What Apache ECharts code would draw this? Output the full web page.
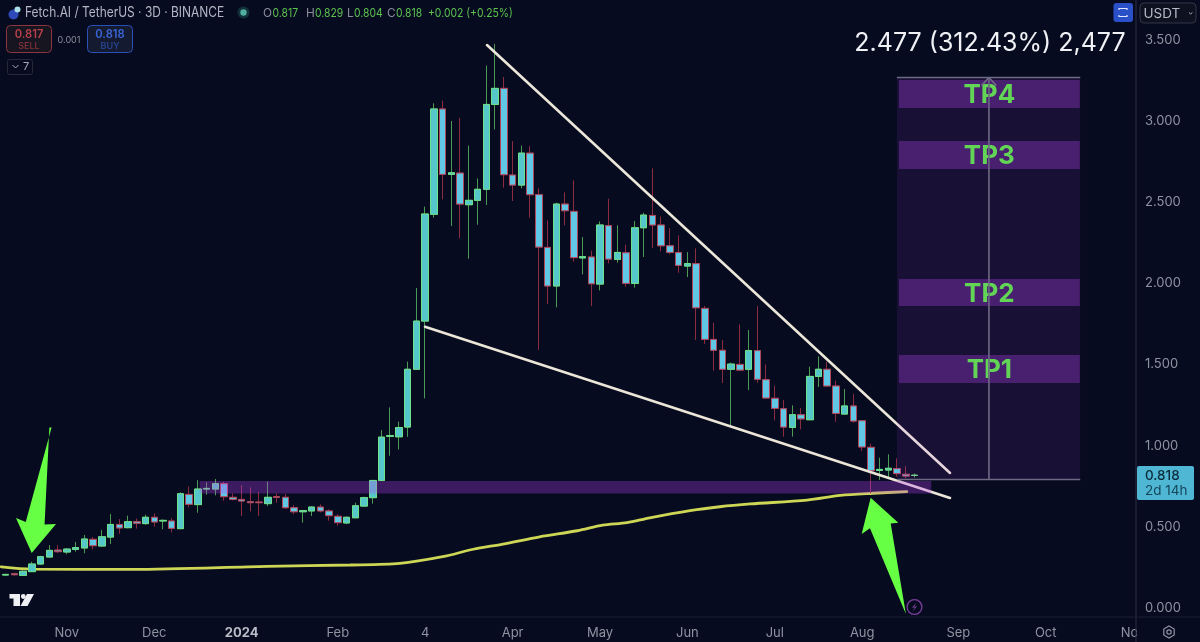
<!DOCTYPE html>
<html><head><meta charset="utf-8"><title>FET/USDT</title>
<style>html,body{margin:0;padding:0;background:#060b20;overflow:hidden}#c{width:1200px;height:642px}</style>
<script src="https://cdn.jsdelivr.net/npm/echarts@6/dist/echarts.min.js"></script></head>
<body><div id="c"></div>
<script>
const categories=['2023-10-12','2023-10-15','2023-10-18','2023-10-21','2023-10-24','2023-10-27','2023-10-30',
'2023-11-02','2023-11-05','2023-11-08','2023-11-11','2023-11-14','2023-11-17','2023-11-20','2023-11-23','2023-11-26','2023-11-29',
'2023-12-02','2023-12-05','2023-12-08','2023-12-11','2023-12-14','2023-12-17','2023-12-20','2023-12-23','2023-12-26','2023-12-29',
'2024-01-01','2024-01-04','2024-01-07','2024-01-10','2024-01-13','2024-01-16','2024-01-19','2024-01-22','2024-01-25','2024-01-28','2024-01-31',
'2024-02-03','2024-02-06','2024-02-09','2024-02-12','2024-02-15','2024-02-18','2024-02-21','2024-02-24','2024-02-27',
'2024-03-01','2024-03-04','2024-03-07','2024-03-10','2024-03-13','2024-03-16','2024-03-19','2024-03-22','2024-03-25','2024-03-28','2024-03-31',
'2024-04-03','2024-04-06','2024-04-09','2024-04-12','2024-04-15','2024-04-18','2024-04-21','2024-04-24','2024-04-27','2024-04-30',
'2024-05-03','2024-05-06','2024-05-09','2024-05-12','2024-05-15','2024-05-18','2024-05-21','2024-05-24','2024-05-27','2024-05-30',
'2024-06-02','2024-06-05','2024-06-08','2024-06-11','2024-06-14','2024-06-17','2024-06-20','2024-06-23','2024-06-26','2024-06-29',
'2024-07-02','2024-07-05','2024-07-08','2024-07-11','2024-07-14','2024-07-17','2024-07-20','2024-07-23','2024-07-26','2024-07-29',
'2024-08-01','2024-08-04','2024-08-07','2024-08-10','2024-08-13','2024-08-16','2024-08-19','2024-08-22','2024-08-25','2024-08-28','2024-08-31',
'2024-09-03','2024-09-06','2024-09-09','2024-09-12','2024-09-15','2024-09-18','2024-09-21','2024-09-24','2024-09-27','2024-09-30',
'2024-10-03','2024-10-06','2024-10-09','2024-10-12','2024-10-15','2024-10-18','2024-10-21','2024-10-24','2024-10-27','2024-10-30',
'2024-11-02'];
const tickDates=['2023-11-02','2023-12-02','2024-01-01','2024-02-03','2024-03-04','2024-04-03','2024-05-03','2024-06-02','2024-07-02','2024-08-01','2024-09-03','2024-10-03','2024-11-02'];
const tickTexts=['Nov','Dec','2024','Feb','4','Apr','May','Jun','Jul','Aug','Sep','Oct','Nov'];
const opens=[.203,.211,.201,.224,.271,.314,.357,.345,.361,.370,.423,.382,.437,.515,.495,.532,.520,.559,.536,.536,
.489,.700,.637,.733,.733,.766,.682,.669,.655,.653,.643,.686,.682,.618,.593,.598,.622,.598,.565,.524,
.556,.628,.680,.786,1.058,1.055,1.115,1.471,1.768,2.426,3.075,2.672,2.680,2.485,2.512,2.580,3.103,3.202,2.668,2.606,
2.803,2.547,2.222,1.984,2.489,2.444,2.157,2.163,1.996,2.356,2.148,2.189,2.000,2.343,2.419,2.360,2.232,2.191,2.107,2.122,
1.846,1.655,1.588,1.471,1.501,1.471,1.586,1.407,1.292,1.228,1.113,1.191,1.160,1.427,1.471,1.368,1.195,1.245,1.154,.990,
.848,.850,.859,.824,.817];
const closes=[.207,.205,.226,.271,.316,.355,.347,.363,.372,.425,.384,.439,.515,.493,.532,.522,.559,.530,.540,.491,
.704,.639,.733,.737,.766,.686,.669,.659,.649,.649,.682,.682,.618,.593,.600,.622,.598,.569,.526,.559,
.630,.680,.786,1.053,1.062,1.112,1.471,1.768,2.428,3.075,2.672,2.682,2.489,2.512,2.580,3.103,3.202,2.670,2.606,2.803,
2.547,2.224,1.984,2.489,2.448,2.159,2.165,1.998,2.360,2.150,2.191,2.000,2.343,2.421,2.360,2.232,2.191,2.111,2.122,1.850,
1.655,1.588,1.471,1.503,1.466,1.586,1.409,1.294,1.230,1.115,1.191,1.165,1.427,1.471,1.368,1.199,1.245,1.152,.992,.846,
.854,.861,.828,.813,.818];
const highs=[.211,.218,.232,.285,.322,.388,.388,.370,.407,.450,.437,.481,.579,.548,.569,.552,.575,.583,.546,.554,
.713,.749,.788,.774,.795,.778,.706,.756,.743,.715,.780,.706,.704,.634,.604,.628,.639,.608,.577,.563,
.649,.686,.788,1.096,1.236,1.148,1.518,1.972,2.473,3.110,3.126,3.001,3.021,2.849,2.647,3.342,3.475,3.272,2.877,2.849,
2.847,2.586,2.389,2.497,2.561,2.635,2.286,2.202,2.382,2.522,2.358,2.239,2.385,2.436,2.709,2.411,2.341,2.296,2.193,2.216,
1.861,1.758,1.651,1.512,1.748,1.713,1.861,1.501,1.370,1.282,1.249,1.232,1.487,1.551,1.518,1.401,1.349,1.319,1.158,1.013,
.926,.947,.922,.875,.829];
const lows=[.199,.199,.199,.222,.267,.312,.339,.331,.347,.337,.361,.378,.394,.458,.491,.489,.513,.501,.485,.466,
.487,.620,.587,.698,.694,.661,.663,.567,.595,.567,.628,.649,.610,.577,.526,.567,.589,.538,.507,.517,
.554,.622,.643,.782,.938,.977,1.055,1.470,1.292,2.405,2.518,2.354,2.278,2.152,2.362,2.483,2.949,2.590,2.508,2.586,
2.405,1.590,1.873,1.853,2.358,2.134,2.056,1.861,1.957,2.124,2.128,1.980,1.974,2.163,2.218,2.198,2.179,2.066,2.039,1.651,
1.627,1.462,1.386,1.123,1.460,1.343,1.388,1.290,1.156,1.056,1.056,1.101,1.158,1.362,1.364,1.148,1.193,1.142,.967,.707,
.789,.799,.809,.799,.804];
const emaIdx=[-0.5,3.01,14.57,29.9,39.4,45.1,50.0,53.5,56.9,61.1,65.4,68.3,71.1,73.7,78.3,81.7,85.2,91.7,95.5,99.2,103.1];
const emaVal=[.254,.240,.238,.257,.265,.275,.316,.362,.394,.439,.476,.510,.526,.556,.600,.624,.641,.665,.694,.707,.717];
const upperTrend=[[55.07,3.469],[108.05,.832]];
const lowerTrend=[[47.98,1.733],[108.05,.678]];
const supportBand=[[22.2,105.9,.705,.782]];
const targetBox=[[101.97,122.95,.792,3.269]];
const tpNames=['TP4','TP3','TP2','TP1'];
const tpBands=[[102.2,122.9,3.081,3.253],[102.2,122.9,2.705,2.877],[102.2,122.9,1.861,2.027],[102.2,122.9,1.386,1.559]];
const boxTop=[[101.97,3.269],[122.95,3.269]];
const boxBottom=[[101.97,.792],[122.95,.792]];
const boxMid=[[112.5,.792],[112.5,3.269]];
const boxChevron=[[111.65,3.219],[112.5,3.269],[113.35,3.219]];
const arrowLeft=[[5.25,1.112],[5.0,1.112],[4.45,.514],[5.76,.518],[2.98,.339],[1.18,.555],[2.3,.53]];
const arrowRight=[[98.97,.679],[102.13,.525],[101.26,.521],[103.0,-.037],[98.89,.491],[97.94,.456]];

const bg='#060b20';
const candle=categories.slice(0,opens.length).map((d,i)=>[opens[i],closes[i],lows[i],highs[i]]);
const bodies=candle.map(c=>[c[0],c[1],Math.min(c[0],c[1]),Math.max(c[0],c[1])]);

function rectSeries(rows,fill,z,names){
  return {type:'custom',xAxisIndex:1,yAxisIndex:0,z,silent:true,clip:false,data:rows,
    encode:{x:[0,1],y:[2,3]},
    renderItem(p,api){
      const a=api.coord([api.value(0),api.value(3)]),b=api.coord([api.value(1),api.value(2)]);
      const kids=[{type:'rect',shape:{x:a[0],y:a[1],width:b[0]-a[0],height:b[1]-a[1]},style:{fill}}];
      if(names)kids.push({type:'text',z2:5,x:(a[0]+b[0])/2,y:(a[1]+b[1])/2+1.5,
        style:{text:names[p.dataIndex],fill:'#62d556',font:'700 26px Inter',textAlign:'center',textVerticalAlign:'middle'}});
      return {type:'group',children:kids};
    }};
}
function polySeries(pts,fill,z){
  return {type:'custom',xAxisIndex:1,yAxisIndex:0,z,silent:true,clip:false,data:[pts[0]],
    renderItem(p,api){return {type:'polygon',shape:{points:pts.map(q=>api.coord(q))},style:{fill}};}};
}
function lineSeries(data,color,width,z,cap,smooth){
  return {type:'line',xAxisIndex:1,yAxisIndex:0,data,z,silent:true,symbol:'none',showSymbol:false,clip:false,smooth:smooth||false,
    lineStyle:{color,width,cap:cap||'round'},animation:false};
}
function T(text,x,y,fill,font,align,sx){const o={type:'text',x,y,z:120,silent:true,style:{text,fill,font,textAlign:align||'left',textVerticalAlign:'middle'}};if(sx)o.scaleX=sx;return o;}
function R(x,y,w,h,fill,stroke,r,lw){return {type:'rect',z:110,silent:true,shape:{x,y,width:w,height:h,r:r||0},style:{fill:fill||'transparent',stroke:stroke||null,lineWidth:lw||1}};}
function L(x1,y1,x2,y2,stroke,lw){return {type:'line',z:115,silent:true,shape:{x1,y1,x2,y2},style:{stroke,lineWidth:lw||1}};}
function P(points,fill,stroke,lw,closed){return {type:closed===false?'polyline':'polygon',z:118,silent:true,shape:{points},style:{fill:fill||'transparent',stroke:stroke||null,lineWidth:lw||1}};}
function C(cx,cy,r,fill,stroke,lw){return {type:'circle',z:118,silent:true,shape:{cx,cy,r},style:{fill:fill||'transparent',stroke:stroke||null,lineWidth:lw||1}};}

const green='#5cc24e',gray='#8f93a0',F='Inter';
const hf='400 11.8px '+F,hs=.88;
const chrome=[
  R(1137,618,63,24,bg),
  L(1136,0,1136,642,'#2a2e3c',1),
  L(0,617,1200,617,'#1c2130',1),
  C(13.5,14.5,5,'#2f49b8'),C(17.5,9.5,3,'#a9dfe8'),
  T('Fetch.AI / TetherUS · 3D · BINANCE',25,13,'#b4b7c3','400 13.8px '+F,'left',.865),
  C(243.5,12.5,6,'#12303a'),C(243.5,12.5,3.2,'#4fae9d'),
  T('O',263,13,'#8a8d99',hf),T('0.817',272.5,13,green,hf,'left',hs),
  T('H',306,13,'#8a8d99',hf),T('0.829',315,13,green,hf,'left',hs),
  T('L',347,13,'#8a8d99',hf),T('0.804',354,13,green,hf,'left',hs),
  T('C',387,13,'#8a8d99',hf),T('0.818',396,13,green,hf,'left',hs),
  T('+0.002 (+0.25%)',428,13,green,hf,'left',hs),
  R(6.5,25.5,45,27,'#17151f','#8c3540',4,1),
  T('0.817',29,34.5,'#b9414c','600 11.2px '+F,'center'),T('SELL',29,46.5,'#87323d','500 9px '+F,'center'),
  T('0.001',69,40,'#8a8d99','400 9px '+F,'center'),
  R(87.5,25.5,45,27,'#141a30','#2b50b8',4,1),
  T('0.818',110,34.5,'#3a66d8','600 11.2px '+F,'center'),T('BUY',110,46.5,'#2b4aa0','500 9px '+F,'center'),
  R(7.5,59.5,25,15,'transparent','#262a38',2,1),
  P([[12.5,65],[15.5,68],[18.5,65]],null,'#a8abb6',1,false),T('7',23,67,'#a8abb6','400 11px '+F),
  R(1113.5,3,19.5,19,'#2a50c8',null,3),
  P([[1119,10],[1119,8.5],[1127,8.5],[1127,10]],null,'#dfe6ff',1.2,false),
  P([[1119,15],[1119,16.5],[1127,16.5],[1127,15]],null,'#dfe6ff',1.2,false),
  R(1140,3,56,20,'#0d1120','#333746',4,1),
  T('USDT',1143.5,13.5,'#b7bac5','400 13.5px '+F),
  P([[1189,12.5],[1190.7,14],[1192.4,12.5]],null,'#a8abb6',1,false),
  T('2.477 (312.43%) 2,477',990,43,'#f0f1f5','400 25px '+F,'center'),
  R(1137,466,57,34,'#4fb6d3',null,2),
  T('0.818',1145,475.5,'#0c2c3c','500 13.5px '+F),
  T('2d 14h',1145,490.5,'#15475b','400 13.5px '+F),
  P([[9.5,594],[20,594],[20,606],[13.5,606],[13.5,598.5],[9.5,598.5]],'#eef0f4'),
  C(23.3,596.5,2.4,'#eef0f4'),
  P([[27,594],[34,594],[27.5,606],[20.5,606]],'#eef0f4'),
  C(914.5,607,7.4,null,'#7c3f9c',1.3),
  P([[916.5,602.5],[912,607.7],[915,607.3],[912.5,611.5],[917,606.3],[914,606.7]],'#8a4aaa'),
  P([[1169,626],[1174.2,629],[1174.2,635],[1169,638],[1163.8,635],[1163.8,629]],null,'#8f93a0',1.2),
  C(1169,632,2.2,null,'#8f93a0',1.2)
];

const chart=echarts.init(document.getElementById('c'),null,{renderer:'canvas',width:1200,height:642});
chart.setOption({
  backgroundColor:bg,animation:false,
  textStyle:{fontFamily:F},
  grid:{left:1.3,width:1136.2,top:40,height:568,containLabel:false},
  xAxis:[
    {type:'category',data:categories,boundaryGap:true,axisLine:{show:false},axisTick:{show:false},splitLine:{show:false},
     axisLabel:{interval:0,margin:19,hideOverlap:false,color:gray,fontSize:13,fontFamily:F,
       formatter(v){const k=tickDates.indexOf(v);if(k<0)return '';return tickTexts[k]==='2024'?'{b|2024}':tickTexts[k];},
       rich:{b:{fontWeight:700,fontSize:13,color:'#b9bcc6',fontFamily:F}}}},
    {type:'value',min:-0.5,max:129.5,show:false,splitLine:{show:false}}
  ],
  yAxis:{type:'value',position:'right',min:0,max:3.5,interval:.5,axisLine:{show:false},axisTick:{show:false},splitLine:{show:false},
    axisLabel:{margin:7.5,padding:[4,0,0,0],color:gray,fontSize:13,fontFamily:F,formatter:v=>v.toFixed(3)}},
  series:[
    lineSeries(emaIdx.map((x,i)=>[x,emaVal[i]]),'#cdd655',2.8,2,'round',.3),
    {type:'candlestick',xAxisIndex:0,yAxisIndex:0,data:candle,z:3,barWidth:7,silent:true,
     itemStyle:{color:'#55c6c9',color0:'#60c8e4',borderColor:'#4b9a55',borderColor0:'#8c2c40',borderWidth:1}},
    {type:'candlestick',xAxisIndex:0,yAxisIndex:0,data:bodies,z:4,barWidth:7,silent:true,
     itemStyle:{color:'#55c6c9',color0:'#60c8e4',borderColor:'#6fe08a',borderColor0:'#b0465a',borderWidth:1}},
    lineSeries(upperTrend,'#ece6d8',2.6,5),
    lineSeries(lowerTrend,'#ece6d8',2.6,5),
    rectSeries(supportBand,'rgba(189,65,245,.30)',6),
    rectSeries(targetBox,'rgba(189,65,245,.10)',6),
    rectSeries(tpBands,'rgba(189,65,245,.30)',7,tpNames),
    lineSeries(boxTop,'#6f6a84',1.6,8,'butt'),
    lineSeries(boxBottom,'#6f6a84',1.6,8,'butt'),
    lineSeries(boxMid,'#6f6a84',1.6,8,'butt'),
    lineSeries(boxChevron,'#6f6a84',1.6,8,'butt'),
    polySeries(arrowLeft,'#66ff44',9),
    polySeries(arrowRight,'#66ff44',9)
  ],
  graphic:{elements:chrome}
});
</script></body></html>
